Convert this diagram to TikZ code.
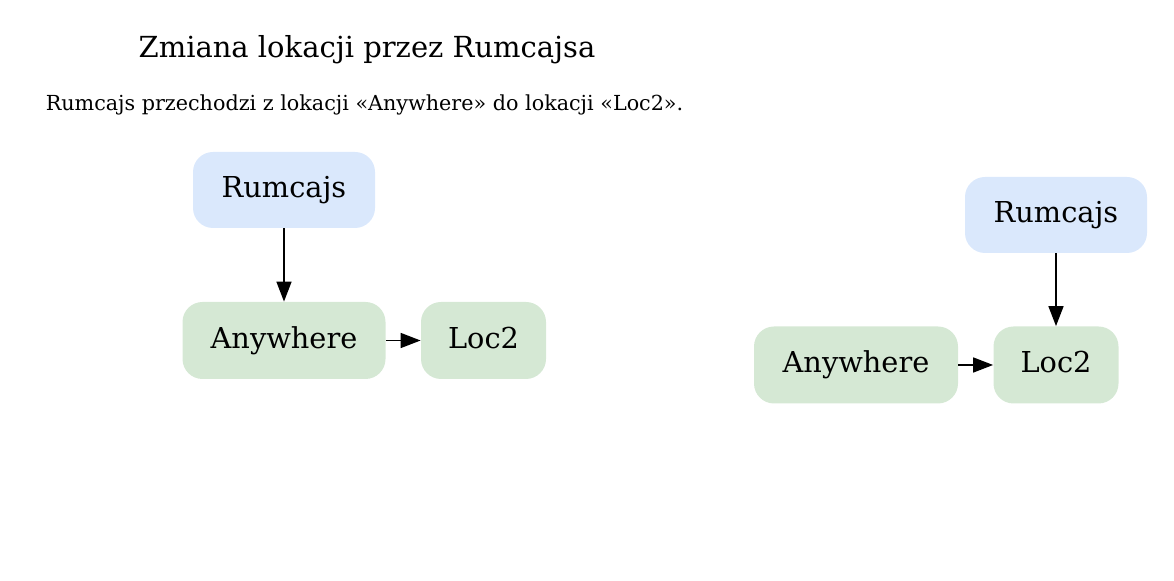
\documentclass[tikz,border=0pt]{standalone}
\usepackage{fontspec}
\setmainfont{DejaVu Serif}
\usetikzlibrary{arrows.meta}
\definecolor{bluefill}{HTML}{DAE8FC}
\definecolor{greenfill}{HTML}{D5E8D4}
\tikzset{
  box/.style={rounded corners=10pt, inner sep=0pt, text height=11pt, text depth=3pt, font=\fontsize{14.4}{16}\selectfont},
  person/.style={box, fill=bluefill, minimum width=91pt, minimum height=38pt},
  place/.style={box, fill=greenfill, minimum height=38.5pt},
  link/.style={line width=0.8pt, -{Triangle[length=10pt,width=7.5pt]}},
}
\begin{document}
\begin{tikzpicture}[x=0.5pt, y=-0.5pt]
\useasboundingbox (0,0) rectangle (1174,581);
\node[anchor=base, font=\fontsize{14.5}{16}\selectfont] (title) at (367,58) {Zmiana lokacji przez Rumcajsa};
\node[anchor=base, font=\fontsize{10.35}{12}\selectfont] (sub) at (364.5,111) {Rumcajs przechodzi z lokacji «Anywhere» do lokacji «Loc2».};
% left graph
\node[person] (lr) at (284,190) {Rumcajs};
\node[place, minimum width=101.5pt] (la) at (284,340.5) {Anywhere};
\node[place, minimum width=62.5pt] (ll) at (483.5,340.5) {Loc2};
\draw[link] (lr) -- (la);
\draw[link] (la) -- (ll);
% right graph
\node[person] (rr) at (1056,215) {Rumcajs};
\node[place, minimum width=102pt] (ra) at (856,365) {Anywhere};
\node[place, minimum width=62.5pt] (rl) at (1056,365) {Loc2};
\draw[link] (rr) -- (rl);
\draw[link] (ra) -- (rl);
\end{tikzpicture}
\end{document}
